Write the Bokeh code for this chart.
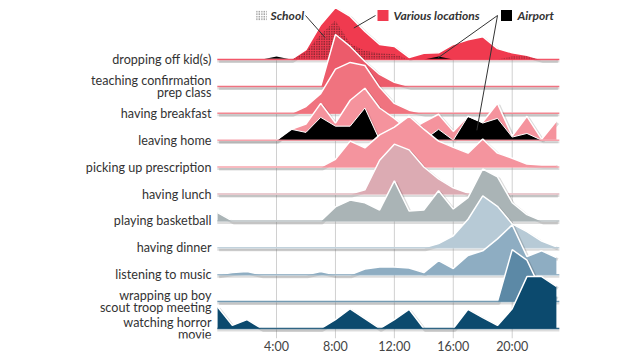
import numpy as np
from bokeh.plotting import figure
from bokeh.models import FixedTicker, Range1d
from bokeh.core.properties import value
from bokeh.embed import file_html
from bokeh.resources import INLINE

# ---------------- data (share of mentions per hour, 100 = row peak) ----------------
hours = list(range(24))
activities = [
    "dropping off kid(s)",
    "teaching confirmation\nprep class",
    "having breakfast",
    "leaving home",
    "picking up prescription",
    "having lunch",
    "playing basketball",
    "having dinner",
    "listening to music",
    "wrapping up boy\nscout troop meeting",
    "watching horror\nmovie",
]
dropping_off = [0, 0, 0, 0, 0, 0, 19, 67, 100, 83, 54, 29, 25, 4, 12, 13, 29, 38, 44, 21, 13, 8, 0, 0]
teaching = [0, 0, 0, 0, 0, 0, 0, 0, 100, 77, 48, 23, 8, 0, 0, 0, 0, 0, 0, 0, 0, 0, 0, 0]
breakfast = [0, 0, 0, 0, 0, 0, 13, 38, 85, 98, 92, 50, 19, 6, 0, 0, 0, 0, 0, 0, 0, 0, 0, 0]
leaving_home = [0, 0, 0, 0, 0, 21, 31, 71, 33, 77, 100, 62, 42, 19, 35, 50, 17, 46, 35, 71, 8, 46, 2, 37]
prescription = [0, 0, 0, 0, 0, 0, 0, 0, 15, 50, 37, 62, 77, 98, 73, 50, 38, 27, 54, 27, 17, 6, 4, 4]
lunch = [0, 0, 0, 0, 0, 0, 0, 0, 0, 0, 8, 65, 96, 85, 52, 29, 12, 2, 0, 0, 0, 0, 0, 0]
basketball = [16, 0, 0, 0, 0, 0, 0, 0, 27, 40, 35, 21, 77, 19, 21, 58, 23, 45, 100, 85, 35, 12, 0, 0]
dinner = [0, 0, 0, 0, 0, 0, 0, 0, 0, 0, 0, 0, 0, 0, 0, 8, 23, 55, 100, 80, 46, 31, 13, 2]
music = [0, 4, 6, 0, 0, 0, 0, 6, 0, 0, 11, 15, 15, 13, 4, 27, 12, 37, 46, 69, 96, 35, 46, 33]
boy_scout = [0, 0, 0, 0, 0, 0, 0, 0, 0, 0, 0, 0, 0, 0, 0, 0, 0, 0, 0, 0, 100, 80, 20, 10]
horror_movie = [42, 6, 17, 0, 0, 0, 0, 0, 17, 38, 19, 0, 17, 37, 0, 0, 0, 37, 21, 6, 38, 100, 100, 81]

# location overlays
school_dropping_off = [0, 0, 0, 0, 0, 0, 15, 48, 75, 31, 17, 12, 10, 0, 0, 0, 0, 0, 0, 0, 6, 6, 0, 0]
airport_dropping_off = [0, 0, 0, 0, 6, 0, 0, 0, 0, 0, 0, 0, 0, 0, 0, 6, 0, 0, 0, 0, 0, 0, 0, 0]
airport_leaving_home = [0, 0, 0, 0, 0, 21, 15, 44, 27, 27, 62, 0, 0, 0, 0, 21, 0, 46, 33, 42, 6, 13, 0, 0]

series = [dropping_off, teaching, breakfast, leaving_home, prescription, lunch,
          basketball, dinner, music, boy_scout, horror_movie]
colors = ["#f03a4f", "#ec5b6b", "#f0737f", "#f5939d", "#f4949e", "#dcabb3",
          "#aab4b6", "#b7cad6", "#8eadc2", "#5c89a6", "#0c4a6e"]
tick_hours = [4, 8, 12, 16, 20]
tick_labels = ["4:00", "8:00", "12:00", "16:00", "20:00"]
legend_labels = ["School", "Various locations", "Airport"]

# ---------------- layout constants (figure pixels) ----------------
W, H = 632, 356
PX_H = 14.73          # pixels per hour
H0 = 217.1            # x pixel of hour 0
ROW_PX = 26.9         # pixels between baselines
ROW0 = 59             # y pixel of first baseline
BOTTOM = 18           # axis border
PEAK = 1.93           # peak height in rows
n = len(activities)
top_y = n - 1

x_start = -H0 / PX_H
x_end = (W - H0) / PX_H
y_end = top_y + ROW0 / ROW_PX
y_start = top_y - (H - BOTTOM - ROW0) / ROW_PX

def hx(px):
    return (px - H0) / PX_H

p = figure(width=W, height=H, output_backend="svg", toolbar_location=None,
           x_range=Range1d(x_start, x_end), y_range=Range1d(y_start, y_end),
           y_axis_location=None, min_border_left=0, min_border_right=0,
           min_border_top=0, min_border_bottom=BOTTOM)
p.outline_line_color = None
p.xgrid.visible = False
p.ygrid.visible = False
p.background_fill_color = "white"
p.border_fill_color = "white"

ax = p.xaxis[0]
ax.ticker = FixedTicker(ticks=tick_hours)
ax.major_label_overrides = {h: l for h, l in zip(tick_hours, tick_labels)}
ax.axis_line_color = None
ax.major_tick_line_color = None
ax.minor_tick_line_color = None
ax.major_tick_out = 0
ax.major_tick_in = 0
ax.major_label_standoff = 0
ax.major_label_text_font = "Lato"
ax.major_label_text_font_size = "12.5px"
ax.major_label_text_color = "#444444"

# vertical grid lines from first baseline down
p.segment(x0=tick_hours, y0=[top_y] * len(tick_hours), x1=tick_hours,
          y1=[y_start] * len(tick_hours), line_color="#d0d0d0", line_width=1)

x = np.array(hours, dtype=float)
scale = PEAK / 100.0
dx_sh, dy_sh = 1.5 / PX_H, 2.0 / ROW_PX
x_line = [x[0] - 0.02, x[-1] + 0.2]

for i, (name, vals, col) in enumerate(zip(activities, series, colors)):
    base = top_y - i
    h = np.array(vals) * scale
    # drop shadow
    p.line(x + dx_sh, base + h - dy_sh, line_color="black", line_alpha=0.14, line_width=3)
    p.varea(x=x, y1=base, y2=base + h, fill_color=col)
    if i == 0:
        hs = np.array(school_dropping_off) * scale
        p.varea(x=x, y1=base, y2=base + hs, fill_alpha=0, hatch_pattern="dot",
                hatch_color="#111111", hatch_scale=2.5, hatch_weight=1.3, hatch_alpha=0.9)
        ha = np.array(airport_dropping_off) * scale
        p.varea(x=x, y1=base, y2=base + ha, fill_color="black")
    if i == 3:
        ha = np.array(airport_leaving_home) * scale
        p.line(x + dx_sh, base + ha - dy_sh, line_color="black", line_alpha=0.1, line_width=2)
        p.varea(x=x, y1=base, y2=base + ha, fill_color="black")
        p.line(x, base + ha, line_color="white", line_width=1)
    p.line(x, base + h, line_color="white", line_width=1.5)
    # baseline with shadow
    p.line(x_line, [base - dy_sh, base - dy_sh], line_color="#9a9a9a", line_alpha=0.35, line_width=2)
    p.line(x_line, [base, base], line_color=col, line_width=1.5, line_alpha=0.85)
    # label
    p.text(x=[hx(211)], y=[base], text=[name], text_align="right", text_baseline="middle",
           text_font=value("Lato"), text_font_size="12.6px", text_color="#333333",
           text_line_height=0.76)

# ---------------- legend ----------------
leg_y = top_y + (ROW0 - 15) / ROW_PX
sq_x = [hx(261), hx(382.5), hx(506)]
tx_x = [hx(270), hx(393), hx(517)]
p.rect(x=[sq_x[0]], y=[leg_y], width=11, height=11, width_units="screen", height_units="screen",
       fill_color="white", line_color=None, hatch_pattern="dot", hatch_color="#444444",
       hatch_scale=2.5, hatch_weight=1.3)
p.rect(x=sq_x[1:], y=[leg_y, leg_y], width=11, height=11, width_units="screen",
       height_units="screen", fill_color=[colors[0], "black"], line_color=None)
p.text(x=tx_x, y=[leg_y] * 3, text=legend_labels, text_baseline="middle",
       text_font=value("Lato"), text_font_size="12px", text_font_style="bold italic",
       text_color="#333333")

# pointer lines from legend to the marked areas
def pt(row, hr, vals, frac):
    return top_y - row + np.interp(hr, x, np.array(vals) * scale) * frac

ptr_x0 = [hx(305), hx(375), hx(497), hx(497)]
ptr_y0 = [leg_y] * 4
ptr_x1 = [7.3, 9.25, 14.95, 17.6]
ptr_y1 = [pt(0, 7.3, school_dropping_off, 0.75), pt(0, 9.25, dropping_off, 0.8),
          pt(0, 14.95, airport_dropping_off, 0.5), pt(3, 17.6, airport_leaving_home, 0.5)]
p.segment(x0=ptr_x0, y0=ptr_y0, x1=ptr_x1, y1=ptr_y1, line_color="#333333", line_width=1)

html = file_html(p, INLINE)
open("out.html", "w").write(html)
